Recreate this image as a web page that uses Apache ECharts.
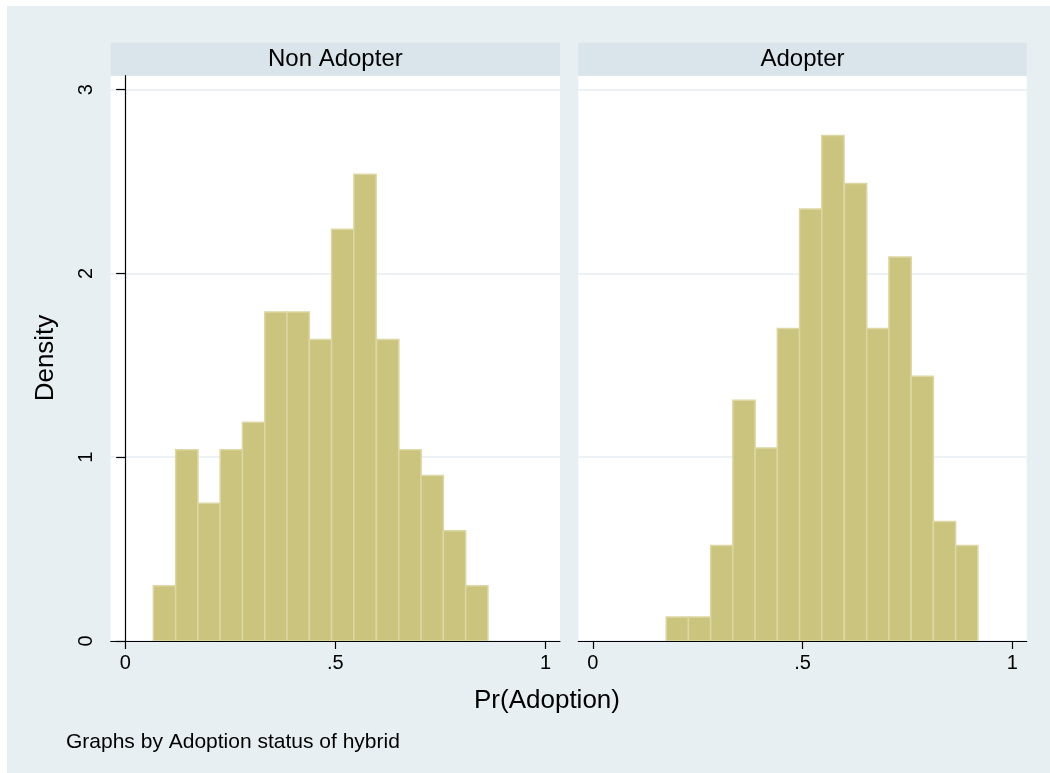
<!DOCTYPE html>
<html>
<head>
<meta charset="utf-8">
<script src="https://cdn.jsdelivr.net/npm/echarts@6/dist/echarts.min.js"></script>
<style>
html,body{margin:0;padding:0;background:#ffffff;}
#chart{width:1050px;height:773px;}
</style>
</head>
<body>
<div id="chart"></div>
<script>
// ---- data ----
var panelTitles = ["Non Adopter", "Adopter"];
var binWidth = 0.0531;
var nonAdopterBinStart = [0.067,0.120,0.173,0.226,0.279,0.332,0.385,0.438,0.491,0.544,0.598,0.651,0.704,0.757,0.810];
var nonAdopterDensity  = [0.30,1.04,0.75,1.04,1.19,1.79,1.79,1.64,2.24,2.54,1.64,1.04,0.90,0.60,0.30];
var adopterBinStart = [0.175,0.228,0.281,0.334,0.387,0.440,0.493,0.546,0.600,0.653,0.706,0.759,0.812,0.865];
var adopterDensity  = [0.13,0.13,0.52,1.31,1.05,1.70,2.35,2.75,2.49,1.70,2.09,1.44,0.65,0.52];
var xTicks = [0, 0.5, 1];
var xTickLabels = ["0", ".5", "1"];
var yTicks = [0, 1, 2, 3];
var yTickLabels = ["0", "1", "2", "3"];
var xTitle = "Pr(Adoption)";
var yTitle = "Density";
var note = "Graphs by Adoption status of hybrid";

// ---- build ----
var FONT = "'Liberation Sans', Arial, sans-serif";
var BAR_FILL = "#cbc47f";
var BAR_EDGE = "#dcd7a4";
var GRID_CLR = "#e6eef2";

function toRows(starts, dens) {
  var rows = [];
  for (var i = 0; i < starts.length; i++) rows.push([starts[i], starts[i] + binWidth, dens[i]]);
  return rows;
}

function renderBar(params, api) {
  var p0 = api.coord([api.value(0), 0]);
  var p1 = api.coord([api.value(1), api.value(2)]);
  return {
    type: 'rect',
    shape: { x: p0[0], y: p1[1], width: p1[0] - p0[0], height: p0[1] - p1[1] },
    style: { fill: BAR_FILL, stroke: BAR_EDGE, lineWidth: 1.5 }
  };
}

var grids = [
  { left: 110.7, top: 75.7, width: 449.3, height: 565.3 },
  { left: 578.3, top: 75.7, width: 448.4, height: 565.3 }
];

function xAxisDef(idx) {
  return {
    type: 'value', gridIndex: idx, min: -0.0345, max: 1.0345,
    axisLine: { show: true, onZero: false, lineStyle: { color: '#000', width: 1.2 } },
    axisTick: { show: true, customValues: xTicks, length: 8, lineStyle: { color: '#000', width: 1.2 } },
    axisLabel: {
      show: true, customValues: xTicks, margin: 12, color: '#000', fontSize: 20, fontFamily: FONT,
      formatter: function (v) { var k = xTicks.indexOf(v); return k >= 0 ? xTickLabels[k] : ''; }
    },
    splitLine: { show: false }
  };
}

function yAxisDef(idx, showAxis) {
  return {
    type: 'value', gridIndex: idx, min: 0, max: 3.076,
    axisLine: { show: showAxis, lineStyle: { color: '#000', width: 1.2 } },
    axisTick: { show: showAxis, customValues: yTicks, length: 9, lineStyle: { color: '#000', width: 1.2 } },
    axisLabel: {
      show: showAxis, customValues: yTicks, rotate: 90, margin: 14, color: '#000', fontSize: 20, fontFamily: FONT,
      formatter: function (v) { var k = yTicks.indexOf(v); return k >= 0 ? yTickLabels[k] : ''; }
    },
    splitLine: { show: true, customValues: yTicks, lineStyle: { color: GRID_CLR, width: 1.5 } }
  };
}

var graphics = [
  { type: 'rect', z: -10, shape: { x: 7, y: 6, width: 1043, height: 767 }, style: { fill: '#e8eff2' }, silent: true },
  { type: 'rect', z: -9, shape: { x: grids[0].left, y: 75.7, width: grids[0].width, height: 565.3 }, style: { fill: '#ffffff' } },
  { type: 'rect', z: -9, shape: { x: grids[1].left, y: 75.7, width: grids[1].width, height: 565.3 }, style: { fill: '#ffffff' } }
];
for (var g = 0; g < 2; g++) {
  graphics.push({ type: 'rect', shape: { x: grids[g].left, y: 42.7, width: grids[g].width, height: 33 }, style: { fill: '#d9e5eb' } });
  graphics.push({ type: 'text', x: grids[g].left + grids[g].width / 2, y: 59,
    style: { text: panelTitles[g], fill: '#000', font: '24px ' + FONT, align: 'center', verticalAlign: 'middle' } });
}
graphics.push({ type: 'text', x: 46, y: 358, rotation: Math.PI / 2,
  style: { text: yTitle, fill: '#000', font: '26px ' + FONT, align: 'center', verticalAlign: 'middle' } });
graphics.push({ type: 'text', x: 547, y: 701,
  style: { text: xTitle, fill: '#000', font: '26px ' + FONT, align: 'center', verticalAlign: 'middle' } });
graphics.push({ type: 'text', x: 66, y: 742,
  style: { text: note, fill: '#000', font: '21px ' + FONT, align: 'left', verticalAlign: 'middle' } });

var chart = echarts.init(document.getElementById('chart'), null, { renderer: 'canvas' });
chart.setOption({
  animation: false,
  backgroundColor: '#ffffff',
  grid: grids,
  xAxis: [xAxisDef(0), xAxisDef(1)],
  yAxis: [yAxisDef(0, true), yAxisDef(1, false)],
  graphic: graphics,
  series: [
    { type: 'custom', xAxisIndex: 0, yAxisIndex: 0, renderItem: renderBar, data: toRows(nonAdopterBinStart, nonAdopterDensity), clip: true },
    { type: 'custom', xAxisIndex: 1, yAxisIndex: 1, renderItem: renderBar, data: toRows(adopterBinStart, adopterDensity), clip: true }
  ]
});
</script>
</body>
</html>
